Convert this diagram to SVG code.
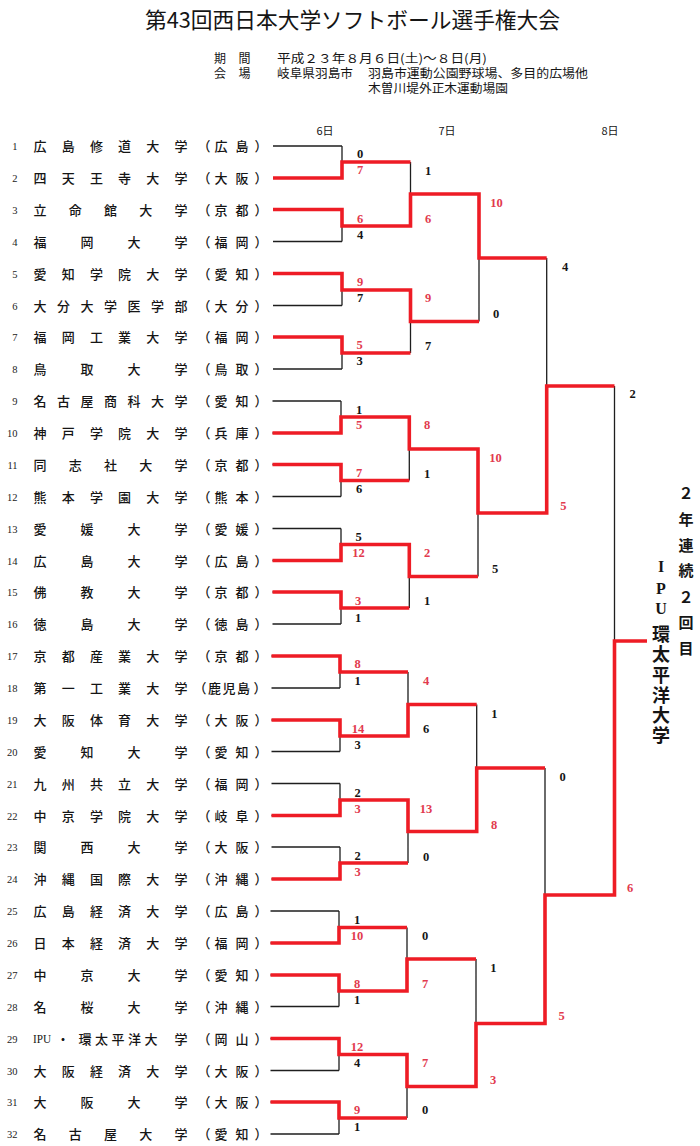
<svg xmlns="http://www.w3.org/2000/svg" width="700" height="1146" viewBox="0 0 700 1146">
<style>
.bk{stroke:#1e1e1e;stroke-width:1.3;fill:none}
.rd{stroke:#ee1c25;stroke-width:3.6;fill:none;stroke-linejoin:miter;stroke-linecap:butt}
.num{font-family:"Liberation Serif",serif;font-size:10.5px;text-anchor:end;fill:#222}
.nm{font-family:"Noto Sans CJK JP",sans-serif;font-size:13px;text-anchor:middle;fill:#151515;font-weight:500}
.sc{font-family:"Liberation Serif",serif;font-size:12.5px;text-anchor:middle;font-weight:bold;fill:#151515}
.sr{fill:#e23a4e}
.hd{font-family:"Noto Sans CJK JP",sans-serif;fill:#151515}
.day{font-family:"Noto Sans CJK JP",sans-serif;font-size:11px;text-anchor:middle;fill:#151515}
.vt{font-family:"Noto Sans CJK JP",sans-serif;font-weight:bold;text-anchor:middle;fill:#151515}
.vl{font-family:"Liberation Serif",serif;font-weight:bold;text-anchor:middle;fill:#151515}
</style>
<rect width="700" height="1146" fill="#ffffff"/>
<g id="header">
<text class="hd" x="352.5" y="27.5" font-size="22" text-anchor="middle" textLength="415" lengthAdjust="spacingAndGlyphs">第43回西日本大学ソフトボール選手権大会</text>
<text class="hd" font-size="12" x="220 244.5" y="62.5" text-anchor="middle">期間</text>
<text class="hd" font-size="12" x="277" y="62.5" textLength="210" lengthAdjust="spacingAndGlyphs">平成２３年８月６日(土)～８日(月)</text>
<text class="hd" font-size="12" x="220 244.5" y="77.5" text-anchor="middle">会場</text>
<text class="hd" font-size="12" x="277" y="77.5" textLength="76" lengthAdjust="spacingAndGlyphs">岐阜県羽島市</text>
<text class="hd" font-size="12" x="368" y="77.5" textLength="220" lengthAdjust="spacingAndGlyphs">羽島市運動公園野球場、多目的広場他</text>
<text class="hd" font-size="12" x="368" y="92.5" textLength="140" lengthAdjust="spacingAndGlyphs">木曽川堤外正木運動場園</text>
<text class="day" x="325" y="135">6日</text>
<text class="day" x="447" y="135">7日</text>
<text class="day" x="610" y="135">8日</text>
</g>
<g id="connectors">
<path class="bk" d="M273 146H342M273 178H342M273 209.5H342M273 241.5H342M273 273.5H342M273 305.5H342M273 337H342M273 369H342
M272.5 401H341M272.5 433H341M272.5 464.5H341M272.5 496.5H341M272.5 528.5H341M272.5 560.5H341M272.5 592H341M272.5 624H341
M271.5 656H340M271.5 688H340M271.5 720H340M271.5 751.5H340M271.5 783.5H340M271.5 815.5H340M271.5 847H340M271.5 879H340
M270.5 911H339M270.5 943H339M270.5 975H339M270.5 1006.5H339M270.5 1038.5H339M270.5 1070.5H339M270.5 1102H339M270.5 1134H339
M342 146V178M342 209.5V241.5M342 273.5V305.5M342 337V369
M341 401V433M341 464.5V496.5M341 528.5V560.5M341 592V624
M340 656V688M340 720V751.5M340 783.5V815.5M340 847V879
M339 911V943M339 975V1006.5M339 1038.5V1070.5M339 1102V1134
M410.5 162V226M410.5 290V353M409.3 417V480.5M409.3 544.5V608
M408 672V736M408 800V863M407 927.5V991M407 1054.5V1118
M479 194V321.5M478 449V576.5M476.7 704.5V831.5M476 959V1086.5
M546.7 258V513M545 768V1023.5M614.5 386V895"/>
<path class="rd" d="M273 178H342V162H410.5
M273 209.5H342V226H410.5V194H479V258H546.7
M273 273.5H342V290H410.5V321.5H479
M273 337H342V353H410.5
M272.5 433H341V417H409.3V449H478V513H546.7V386H614.5
M272.5 464.5H341V480.5H409.3
M272.5 560.5H341V544.5H409.3V576.5H478
M272.5 592H341V608H409.3
M271.5 656H340V672H408
M271.5 720H340V736H408V704.5H476.7
M271.5 815.5H340V800H408V831.5H476.7V768H545
M271.5 879H340V863H408
M270.5 943H339V927.5H407
M270.5 975H339V991H407V959H476
M270.5 1038.5H339V1054.5H407V1086.5H476V1023.5H545V895H614.5V641H647
M270.5 1102H339V1118H407"/>
</g>
<g id="teams">
<g id="team-1"><text class="num" x="17.5" y="150">1</text><text class="nm" x="40 68.2 96.4 124.6 152.8 181" y="151">広島修道大学</text><text class="nm" x="204 221 242 261" y="151">（広島）</text></g>
<g id="team-2"><text class="num" x="17.5" y="182">2</text><text class="nm" x="40 68.2 96.4 124.6 152.8 181" y="183">四天王寺大学</text><text class="nm" x="204 221 242 261" y="183">（大阪）</text></g>
<g id="team-3"><text class="num" x="17.5" y="213.5">3</text><text class="nm" x="40 75.25 110.5 145.75 181" y="214.5">立命館大学</text><text class="nm" x="204 221 242 261" y="214.5">（京都）</text></g>
<g id="team-4"><text class="num" x="17.5" y="245.5">4</text><text class="nm" x="40 87 134 181" y="246.5">福岡大学</text><text class="nm" x="204 221 242 261" y="246.5">（福岡）</text></g>
<g id="team-5"><text class="num" x="17.5" y="277.5">5</text><text class="nm" x="40 68.2 96.4 124.6 152.8 181" y="278.5">愛知学院大学</text><text class="nm" x="204 221 242 261" y="278.5">（愛知）</text></g>
<g id="team-6"><text class="num" x="17.5" y="309.5">6</text><text class="nm" x="40 63.5 87 110.5 134 157.5 181" y="310.5">大分大学医学部</text><text class="nm" x="204 221 242 261" y="310.5">（大分）</text></g>
<g id="team-7"><text class="num" x="17.5" y="341">7</text><text class="nm" x="40 68.2 96.4 124.6 152.8 181" y="342">福岡工業大学</text><text class="nm" x="204 221 242 261" y="342">（福岡）</text></g>
<g id="team-8"><text class="num" x="17.5" y="373">8</text><text class="nm" x="40 87 134 181" y="374">鳥取大学</text><text class="nm" x="204 221 242 261" y="374">（鳥取）</text></g>
<g id="team-9"><text class="num" x="17.5" y="405">9</text><text class="nm" x="40 63.5 87 110.5 134 157.5 181" y="406">名古屋商科大学</text><text class="nm" x="204 221 242 261" y="406">（愛知）</text></g>
<g id="team-10"><text class="num" x="17.5" y="437">10</text><text class="nm" x="40 68.2 96.4 124.6 152.8 181" y="438">神戸学院大学</text><text class="nm" x="204 221 242 261" y="438">（兵庫）</text></g>
<g id="team-11"><text class="num" x="17.5" y="468.5">11</text><text class="nm" x="40 75.25 110.5 145.75 181" y="469.5">同志社大学</text><text class="nm" x="204 221 242 261" y="469.5">（京都）</text></g>
<g id="team-12"><text class="num" x="17.5" y="500.5">12</text><text class="nm" x="40 68.2 96.4 124.6 152.8 181" y="501.5">熊本学園大学</text><text class="nm" x="204 221 242 261" y="501.5">（熊本）</text></g>
<g id="team-13"><text class="num" x="17.5" y="532.5">13</text><text class="nm" x="40 87 134 181" y="533.5">愛媛大学</text><text class="nm" x="204 221 242 261" y="533.5">（愛媛）</text></g>
<g id="team-14"><text class="num" x="17.5" y="564.5">14</text><text class="nm" x="40 87 134 181" y="565.5">広島大学</text><text class="nm" x="204 221 242 261" y="565.5">（広島）</text></g>
<g id="team-15"><text class="num" x="17.5" y="596">15</text><text class="nm" x="40 87 134 181" y="597">佛教大学</text><text class="nm" x="204 221 242 261" y="597">（京都）</text></g>
<g id="team-16"><text class="num" x="17.5" y="628">16</text><text class="nm" x="40 87 134 181" y="629">徳島大学</text><text class="nm" x="204 221 242 261" y="629">（徳島）</text></g>
<g id="team-17"><text class="num" x="17.5" y="660">17</text><text class="nm" x="40 68.2 96.4 124.6 152.8 181" y="661">京都産業大学</text><text class="nm" x="204 221 242 261" y="661">（京都）</text></g>
<g id="team-18"><text class="num" x="17.5" y="692">18</text><text class="nm" x="40 68.2 96.4 124.6 152.8 181" y="693">第一工業大学</text><text class="nm" x="200 214.5 229 243.5 260" y="693">（鹿児島）</text></g>
<g id="team-19"><text class="num" x="17.5" y="724">19</text><text class="nm" x="40 68.2 96.4 124.6 152.8 181" y="725">大阪体育大学</text><text class="nm" x="204 221 242 261" y="725">（大阪）</text></g>
<g id="team-20"><text class="num" x="17.5" y="755.5">20</text><text class="nm" x="40 87 134 181" y="756.5">愛知大学</text><text class="nm" x="204 221 242 261" y="756.5">（愛知）</text></g>
<g id="team-21"><text class="num" x="17.5" y="787.5">21</text><text class="nm" x="40 68.2 96.4 124.6 152.8 181" y="788.5">九州共立大学</text><text class="nm" x="204 221 242 261" y="788.5">（福岡）</text></g>
<g id="team-22"><text class="num" x="17.5" y="819.5">22</text><text class="nm" x="40 68.2 96.4 124.6 152.8 181" y="820.5">中京学院大学</text><text class="nm" x="204 221 242 261" y="820.5">（岐阜）</text></g>
<g id="team-23"><text class="num" x="17.5" y="851">23</text><text class="nm" x="40 87 134 181" y="852">関西大学</text><text class="nm" x="204 221 242 261" y="852">（大阪）</text></g>
<g id="team-24"><text class="num" x="17.5" y="883">24</text><text class="nm" x="40 68.2 96.4 124.6 152.8 181" y="884">沖縄国際大学</text><text class="nm" x="204 221 242 261" y="884">（沖縄）</text></g>
<g id="team-25"><text class="num" x="17.5" y="915">25</text><text class="nm" x="40 68.2 96.4 124.6 152.8 181" y="916">広島経済大学</text><text class="nm" x="204 221 242 261" y="916">（広島）</text></g>
<g id="team-26"><text class="num" x="17.5" y="947">26</text><text class="nm" x="40 68.2 96.4 124.6 152.8 181" y="948">日本経済大学</text><text class="nm" x="204 221 242 261" y="948">（福岡）</text></g>
<g id="team-27"><text class="num" x="17.5" y="979">27</text><text class="nm" x="40 87 134 181" y="980">中京大学</text><text class="nm" x="204 221 242 261" y="980">（愛知）</text></g>
<g id="team-28"><text class="num" x="17.5" y="1010.5">28</text><text class="nm" x="40 87 134 181" y="1011.5">名桜大学</text><text class="nm" x="204 221 242 261" y="1011.5">（沖縄）</text></g>
<g id="team-29"><text class="num" x="17.5" y="1042.5">29</text><text x="33" y="1043" font-family="Liberation Serif, serif" font-size="12" fill="#151515" textLength="18" lengthAdjust="spacingAndGlyphs">IPU</text><text class="nm" x="63 85 101.5 118 134.5 151 181" y="1043.5">・環太平洋大学</text><text class="nm" x="204 221 242 261" y="1043.5">（岡山）</text></g>
<g id="team-30"><text class="num" x="17.5" y="1074.5">30</text><text class="nm" x="40 68.2 96.4 124.6 152.8 181" y="1075.5">大阪経済大学</text><text class="nm" x="204 221 242 261" y="1075.5">（大阪）</text></g>
<g id="team-31"><text class="num" x="17.5" y="1106">31</text><text class="nm" x="40 87 134 181" y="1107">大阪大学</text><text class="nm" x="204 221 242 261" y="1107">（大阪）</text></g>
<g id="team-32"><text class="num" x="17.5" y="1138">32</text><text class="nm" x="40 75.25 110.5 145.75 181" y="1139">名古屋大学</text><text class="nm" x="204 221 242 261" y="1139">（愛知）</text></g>
</g>
<g id="scores">
<text class="sc" x="360" y="158.3">0</text><text class="sc sr" x="360" y="174.3">7</text>
<text class="sc sr" x="360" y="222.5">6</text><text class="sc" x="360" y="238.5">4</text>
<text class="sc sr" x="360" y="286">9</text><text class="sc" x="360" y="302">7</text>
<text class="sc sr" x="359.5" y="349.3">5</text><text class="sc" x="359.5" y="365.3">3</text>
<text class="sc" x="359" y="413.5">1</text><text class="sc sr" x="359" y="429.3">5</text>
<text class="sc sr" x="359" y="477">7</text><text class="sc" x="359" y="493.3">6</text>
<text class="sc" x="358.5" y="541">5</text><text class="sc sr" x="358.5" y="557">12</text>
<text class="sc sr" x="358" y="605">3</text><text class="sc" x="358" y="621.5">1</text>
<text class="sc sr" x="357.5" y="668.3">8</text><text class="sc" x="357.5" y="685">1</text>
<text class="sc sr" x="358" y="732.6">14</text><text class="sc" x="357.5" y="748.6">3</text>
<text class="sc" x="357.5" y="796.6">2</text><text class="sc sr" x="357.5" y="812.6">3</text>
<text class="sc" x="357.5" y="860.3">2</text><text class="sc sr" x="357.5" y="876">3</text>
<text class="sc" x="357" y="924.3">1</text><text class="sc sr" x="357" y="940">10</text>
<text class="sc sr" x="357" y="988.3">8</text><text class="sc" x="357" y="1003.6">1</text>
<text class="sc sr" x="357" y="1051">12</text><text class="sc" x="357" y="1067">4</text>
<text class="sc sr" x="357" y="1114.3">9</text><text class="sc" x="357" y="1131">1</text>
<text class="sc" x="428" y="175">1</text><text class="sc sr" x="428" y="222.6">6</text>
<text class="sc sr" x="428" y="302">9</text><text class="sc" x="428" y="350">7</text>
<text class="sc sr" x="427" y="429.3">8</text><text class="sc" x="427" y="477.6">1</text>
<text class="sc sr" x="427" y="557">2</text><text class="sc" x="427" y="605">1</text>
<text class="sc sr" x="426" y="685.3">4</text><text class="sc" x="426" y="733.3">6</text>
<text class="sc sr" x="426" y="812.6">13</text><text class="sc" x="426" y="861">0</text>
<text class="sc" x="425" y="940">0</text><text class="sc sr" x="425" y="988.3">7</text>
<text class="sc sr" x="425" y="1067">7</text><text class="sc" x="425" y="1114.3">0</text>
<text class="sc sr" x="496.5" y="207">10</text><text class="sc" x="496" y="318.3">0</text>
<text class="sc sr" x="495.5" y="462">10</text><text class="sc" x="495" y="573.3">5</text>
<text class="sc" x="494.3" y="717.6">1</text><text class="sc sr" x="494" y="828.6">8</text>
<text class="sc" x="493.3" y="972">1</text><text class="sc sr" x="493" y="1083.6">3</text>
<text class="sc" x="565" y="271.3">4</text><text class="sc sr" x="563.3" y="510">5</text>
<text class="sc" x="562.7" y="781">0</text><text class="sc sr" x="561.7" y="1020.3">5</text>
<text class="sc" x="632.7" y="398.3">2</text><text class="sc sr" x="630" y="892.3">6</text>
</g>
<g id="champion">
<text class="vt" font-size="15" x="686 686 686 686 686 686 686" y="498.7 524.7 550.7 575.7 602.7 627.7 653.7">２年連続２回目</text>
<text class="vl" font-size="16" x="661 661 661" y="572 593.5 614.3">IPU</text>
<text class="vt" font-size="18" x="661 661 661 661 661 661" y="640.5 661 682 702 722 742">環太平洋大学</text>
</g>
</svg>
